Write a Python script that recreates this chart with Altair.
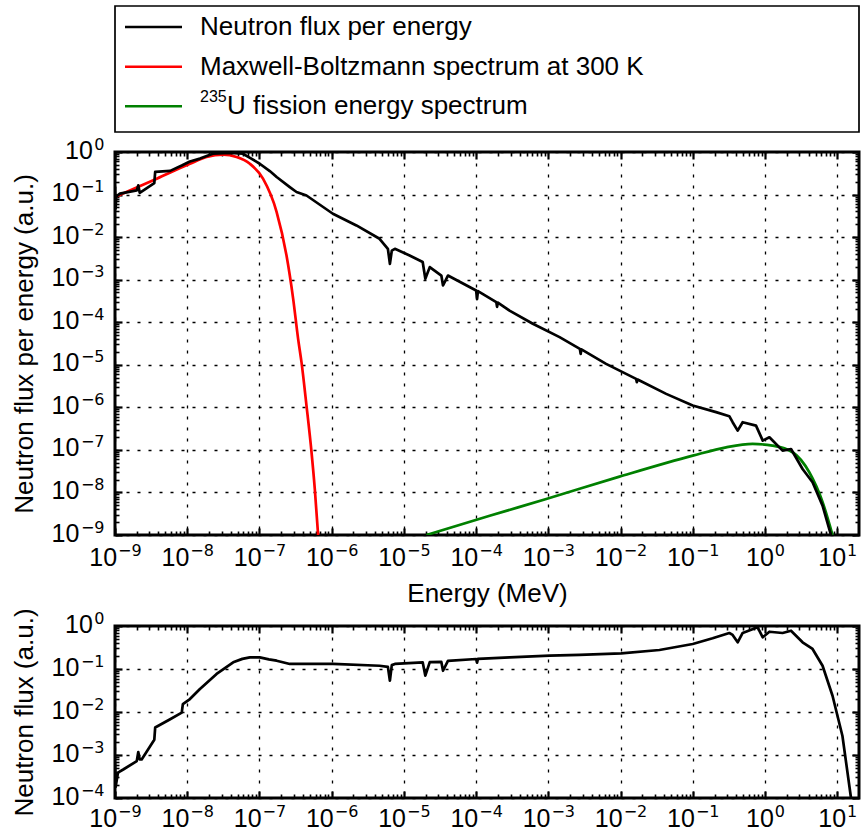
import json
import altair as alt
import pandas as pd

# ---------------- data ----------------
series_names = ["Neutron flux per energy",
                "Maxwell-Boltzmann spectrum at 300 K",
                "235U fission energy spectrum"]
series_colors = ["#000000", "#ff0000", "#008000"]
legend_labels = ["Neutron flux per energy",
                 "Maxwell-Boltzmann spectrum at 300 K",
                 "U fission energy spectrum"]
legend_sups = ["", "", "235"]

# top panel: neutron flux per energy (a.u.) vs energy (MeV)
flux_E = [1.0e-9, 1.02e-9, 1.04e-9, 1.17e-9, 2.0e-9, 2.1e-9, 2.2e-9, 3.5e-9, 3.6e-9,
          5.8e-9, 8.4e-9, 1.09e-8, 1.5e-8, 2.26e-8, 3.9e-8, 5.9e-8, 7.4e-8, 1.01e-7,
          1.39e-7, 1.73e-7, 2.63e-7, 3.26e-7, 4.48e-7, 1.04e-6, 2.2e-6, 4.6e-6, 6.0e-6,
          6.4e-6, 6.8e-6, 7.5e-6, 1.2e-5, 1.82e-5, 1.98e-5, 2.28e-5, 3.3e-5, 3.48e-5,
          4.07e-5, 1.0e-4, 1.03e-4, 1.06e-4, 1.9e-4, 1.95e-4, 2.0e-4, 2.9e-4, 6.1e-4,
          1.43e-3, 2.73e-3, 2.8e-3, 2.87e-3, 6.3e-3, 1.64e-2, 1.68e-2, 1.72e-2, 4.28e-2,
          9.97e-2, 0.21, 0.32, 0.356, 0.418, 0.49, 0.75, 0.93, 1.15, 1.75, 2.29, 3.31,
          4.55, 6.26, 7.75, 8.2, 8.6]
flux_per_E = [0.153, 0.047, 0.09, 0.105, 0.125, 0.165, 0.11, 0.185, 0.34,
              0.36, 0.48, 0.60, 0.70, 0.91, 0.95, 0.91, 0.73, 0.53,
              0.357, 0.258, 0.150, 0.115, 0.095, 0.0354, 0.0188, 0.00914, 0.00532,
              0.00236, 0.0048, 0.0053, 0.0037, 0.00259, 0.00105, 0.00197, 0.00125, 0.00073,
              0.00125, 5.56e-4, 3.5e-4, 5.4e-4, 2.97e-4, 2.3e-4, 2.9e-4, 1.88e-4, 9.2e-5,
              4.46e-5, 2.37e-5, 1.8e-5, 2.3e-5, 1.05e-5, 4.66e-6, 3.9e-6, 4.5e-6, 2.07e-6,
              1.10e-6, 7.7e-7, 6.2e-7, 4.47e-7, 2.84e-7, 4.47e-7, 3.72e-7, 1.65e-7, 1.98e-7,
              9.6e-8, 1.05e-7, 3.56e-8, 1.73e-8, 4.9e-9, 1.38e-9, 1.0e-9, 5e-10]

mb_E = [1.0e-9, 3.78e-9, 1.09e-8, 1.85e-8, 3.15e-8, 4.82e-8, 7.36e-8, 1.12e-7, 1.73e-7,
        2.37e-7, 2.93e-7, 3.43e-7, 3.82e-7, 4.48e-7, 5.26e-7, 5.84e-7, 6.49e-7]
mb_flux = [0.0875, 0.236, 0.53, 0.76, 0.864, 0.76, 0.53, 0.236, 0.0388,
           0.0037, 3.55e-4, 4.07e-5, 1.15e-5, 1.1e-6, 8.8e-8, 1.2e-8, 1.0e-9]

fis_E = [2.05e-5, 1.54e-4, 9.35e-4, 9.66e-3, 0.0998, 0.289, 0.673, 1.27, 2.41, 4.1,
         6.27, 8.6]
fis_flux = [1.0e-9, 2.84e-9, 7.0e-9, 2.35e-8, 7.33e-8, 1.15e-7, 1.38e-7, 1.26e-7,
            8.8e-8, 2.98e-8, 5.9e-9, 1.0e-9]

# bottom panel: neutron flux (a.u.) vs energy (MeV)
lf_E = [1.0e-9, 1.02e-9, 1.1e-9, 1.3e-9, 2.0e-9, 2.1e-9, 2.2e-9, 2.34e-9, 3.5e-9,
        3.6e-9, 5.8e-9, 8.4e-9, 8.7e-9, 1.09e-8, 1.5e-8, 2.55e-8, 4.33e-8, 5.8e-8,
        7.36e-8, 1.01e-7, 1.35e-7, 1.73e-7, 2.63e-7, 1.04e-6, 4.6e-6, 6.0e-6, 6.4e-6,
        6.8e-6, 7.5e-6, 1.82e-5, 1.98e-5, 2.28e-5, 3.3e-5, 3.48e-5, 4.07e-5, 1.0e-4,
        1.03e-4, 1.06e-4, 2.9e-4, 1.04e-3, 2.7e-3, 1.02e-2, 3.45e-2, 0.0998, 0.188,
        0.32, 0.356, 0.418, 0.49, 0.79, 0.93, 1.15, 1.75, 2.29, 3.31, 4.55, 6.26, 8.6,
        11.8, 15.5]
lf_flux = [7e-4, 1.8e-4, 3.9e-4, 4.6e-4, 7.2e-4, 1.17e-3, 7.9e-4, 7.9e-4, 2.25e-3,
           4.35e-3, 6.8e-3, 9.7e-3, 0.0153, 0.020, 0.0343, 0.0766, 0.143, 0.172,
           0.187, 0.187, 0.168, 0.156, 0.131, 0.131, 0.119, 0.112, 0.0535,
           0.123, 0.131, 0.143, 0.070, 0.145, 0.146, 0.091, 0.155, 0.171,
           0.14, 0.172, 0.187, 0.204, 0.212, 0.232, 0.277, 0.381, 0.517,
           0.688, 0.62, 0.418, 0.688, 0.93, 0.546, 0.736, 0.688, 0.777, 0.418, 0.292, 0.119,
           0.0239, 2.77e-3, 1.0e-4]

# axes: tick values, mantissa text and exponent labels
x_domain = [1e-9, 20]
x_tick_values = [1e-9, 1e-8, 1e-7, 1e-6, 1e-5, 1e-4, 1e-3, 1e-2, 1e-1, 1e0, 1e1]
x_tick_exps = ["−9", "−8", "−7", "−6", "−5", "−4", "−3", "−2", "−1", "0", "1"]
top_y_domain = [1e-9, 1]
top_y_values = [1e-9, 1e-8, 1e-7, 1e-6, 1e-5, 1e-4, 1e-3, 1e-2, 1e-1, 1e0]
top_y_exps = ["−9", "−8", "−7", "−6", "−5", "−4", "−3", "−2", "−1", "0"]
bot_y_domain = [1e-4, 1]
bot_y_values = [1e-4, 1e-3, 1e-2, 1e-1, 1e0]
bot_y_exps = ["−4", "−3", "−2", "−1", "0"]
tick_base = "10"


def minors(lo, hi):
    out = []
    for d in range(-12, 3):
        for k in range(2, 10):
            v = k * 10.0 ** d
            if lo < v < hi * 0.999:
                out.append(v)
    return out


# ---------------- build tables ----------------
top_black = pd.DataFrame({"E": flux_E, "v": flux_per_E, "series": series_names[0]})
top_color = pd.concat([
    pd.DataFrame({"E": mb_E, "v": mb_flux, "series": series_names[1]}),
    pd.DataFrame({"E": fis_E, "v": fis_flux, "series": series_names[2]}),
], ignore_index=True)
bot_black = pd.DataFrame({"E": lf_E, "v": lf_flux, "series": series_names[0]})
anchor = pd.DataFrame({"E": [1e-3], "v": [1e-2]})

color_scale = alt.Scale(domain=series_names, range=series_colors)
W = 744
FONT = "Liberation Sans"
EXP_FONT = "DejaVu Sans"
BASE_SIZE = 25
EXP_SIZE = 16


def exp_expr(labels, first_exp):
    return f"{json.dumps(labels, ensure_ascii=False)}[round(log(datum.value)/LN10) + {-first_exp}]"


def cond(test, yes, no):
    return {"condition": {"test": test, "value": yes}, "value": no}


def panel(black_df, color_df, y_domain, y_values, y_exps, y_first_exp, y_title, x_title,
          height, xpad):
    xs = alt.Scale(type="log", domain=x_domain, nice=False)
    ys = alt.Scale(type="log", domain=y_domain, nice=False)
    nonneg = "datum.value >= 0.5"

    # mantissa "10" labels, grid and titles
    base_layer = alt.Chart(anchor).mark_point(opacity=0).encode(
        x=alt.X("E:Q", scale=xs, axis=alt.Axis(
            orient="bottom",
            values=x_tick_values, labelExpr=f"'{tick_base}'", grid=True, ticks=False,
            domain=False, labelFontSize=BASE_SIZE, labelAlign="right", labelBaseline="top",
            labelPadding=xpad, labelOffset=cond(nonneg, 8.3, 1.6), labelFlush=False,
            labelOverlap=False, title=x_title if x_title else None, titlePadding=10)),
        y=alt.Y("v:Q", scale=ys, axis=alt.Axis(
            orient="left",
            values=y_values, labelExpr=f"'{tick_base}'", grid=True, ticks=False,
            domain=False, labelFontSize=BASE_SIZE, labelAlign="right",
            labelBaseline="middle", labelPadding=cond(nonneg, 22.7, 36.1), labelOffset=-2,
            labelFlush=False, labelOverlap=False, title=y_title, titlePadding=14)),
    )
    # exponent labels (superscripts)
    exp_layer = alt.Chart(anchor).mark_point(opacity=0).encode(
        x=alt.X("E:Q", scale=xs, axis=alt.Axis(
            orient="bottom",
            values=x_tick_values, labelExpr=exp_expr(x_tick_exps, -9), grid=False,
            ticks=False, domain=False, labelFont=EXP_FONT, labelFontSize=EXP_SIZE,
            labelAlign="left", labelBaseline="top", labelPadding=xpad - 3,
            labelOffset=cond(nonneg, 9.3, 2.6), labelFlush=False, labelOverlap=False,
            title=None)),
        y=alt.Y("v:Q", scale=ys, axis=alt.Axis(
            orient="left",
            values=y_values, labelExpr=exp_expr(y_exps, y_first_exp), grid=False,
            ticks=False, domain=False, labelFont=EXP_FONT, labelFontSize=EXP_SIZE,
            labelAlign="right", labelBaseline="middle", labelPadding=11, labelOffset=-8,
            labelFlush=False, labelOverlap=False, title=None)),
    )
    layers = [base_layer, exp_layer]
    xmin = minors(*x_domain)
    ymin = minors(*y_domain)
    for xo, yo, size, xv, yv, tw in [
        ("bottom", "left", 7, x_tick_values, y_values, 2.2),
        ("top", "right", 7, x_tick_values, y_values, 2.2),
        ("bottom", "left", 4, xmin, ymin, 1.6),
        ("top", "right", 4, xmin, ymin, 1.6),
    ]:
        layers.append(
            alt.Chart(anchor).mark_point(opacity=0).encode(
                x=alt.X("E:Q", scale=xs, axis=alt.Axis(
                    orient=xo, values=xv, labels=False, domain=False, grid=False,
                    ticks=True, tickSize=size, tickWidth=tw, tickColor="black",
                    offset=-size, title=None)),
                y=alt.Y("v:Q", scale=ys, axis=alt.Axis(
                    orient=yo, values=yv, labels=False, domain=False, grid=False,
                    ticks=True, tickSize=size, tickWidth=tw, tickColor="black",
                    offset=-size, title=None)),
            )
        )
    if color_df is not None:
        layers.append(
            alt.Chart(color_df).mark_line(strokeWidth=2.7, clip=True,
                                          interpolate="monotone").encode(
                x=alt.X("E:Q", scale=xs, axis=None),
                y=alt.Y("v:Q", scale=ys, axis=None),
                color=alt.Color("series:N", scale=color_scale, legend=None),
            )
        )
    layers.append(
        alt.Chart(black_df).mark_line(strokeWidth=2.7, clip=True, strokeJoin="round").encode(
            x=alt.X("E:Q", scale=xs, axis=None),
            y=alt.Y("v:Q", scale=ys, axis=None),
            color=alt.Color("series:N", scale=color_scale, legend=None),
        )
    )
    return alt.layer(*layers).resolve_axis(x="independent", y="independent").properties(
        width=W, height=height,
        view=alt.ViewBackground(stroke="black", strokeWidth=3))


top = panel(top_black, top_color, top_y_domain, top_y_values, top_y_exps, -9,
            "Neutron flux per energy (a.u.)", "Energy (MeV)", 383, 10)
bottom = panel(bot_black, None, bot_y_domain, bot_y_values, bot_y_exps, -4,
               "Neutron flux (a.u.)", None, 172, 8)

# ---------------- legend box ----------------
leg_df = pd.DataFrame({"series": series_names, "label": legend_labels, "sup": legend_sups})
y_leg = alt.Y("series:N", sort=series_names, axis=None,
              scale=alt.Scale(type="point", padding=0.587, align=0.45))
leg_rules = alt.Chart(leg_df).mark_rule(strokeWidth=2.5).encode(
    x=alt.value(10), x2=alt.value(67), y=y_leg,
    color=alt.Color("series:N", scale=color_scale, legend=None))
leg_text = alt.Chart(leg_df).transform_filter("datum.sup == ''").mark_text(
    align="left", baseline="middle", fontSize=26, font=FONT, color="black").encode(
    x=alt.value(85), y=y_leg, text="label:N")
leg_sup = alt.Chart(leg_df).transform_filter("datum.sup != ''").mark_text(
    align="left", baseline="middle", fontSize=16, font=FONT, color="black", dy=-9).encode(
    x=alt.value(85), y=y_leg, text="sup:N")
leg_text2 = alt.Chart(leg_df).transform_filter("datum.sup != ''").mark_text(
    align="left", baseline="middle", fontSize=26, font=FONT, color="black").encode(
    x=alt.value(112), y=y_leg, text="label:N")
legend = alt.layer(leg_rules, leg_text, leg_sup, leg_text2).properties(
    width=W, height=126, view=alt.ViewBackground(stroke="black", strokeWidth=1.7))

spacer = alt.Chart(anchor).mark_point(opacity=0).encode(
    x=alt.value(0), y=alt.value(0)).properties(
    width=W, height=51, view=alt.ViewBackground(stroke="transparent"))

chart = alt.vconcat(legend, top, spacer, bottom, spacing=20, bounds="flush").resolve_scale(
    x="independent", y="independent"
).properties(
    padding={"left": 9, "top": 5, "right": 0, "bottom": 0}
).configure(font=FONT).configure_view(stroke="transparent").configure_axis(
    labelFontSize=24, titleFontSize=26, labelColor="black", titleColor="black",
    titleFontWeight="normal", labelFont=FONT, titleFont=FONT,
    gridColor="black", gridDash=[3, 8], gridWidth=1.3, gridOpacity=1)

chart.save("out.html", embed_options={"renderer": "svg", "actions": False})
